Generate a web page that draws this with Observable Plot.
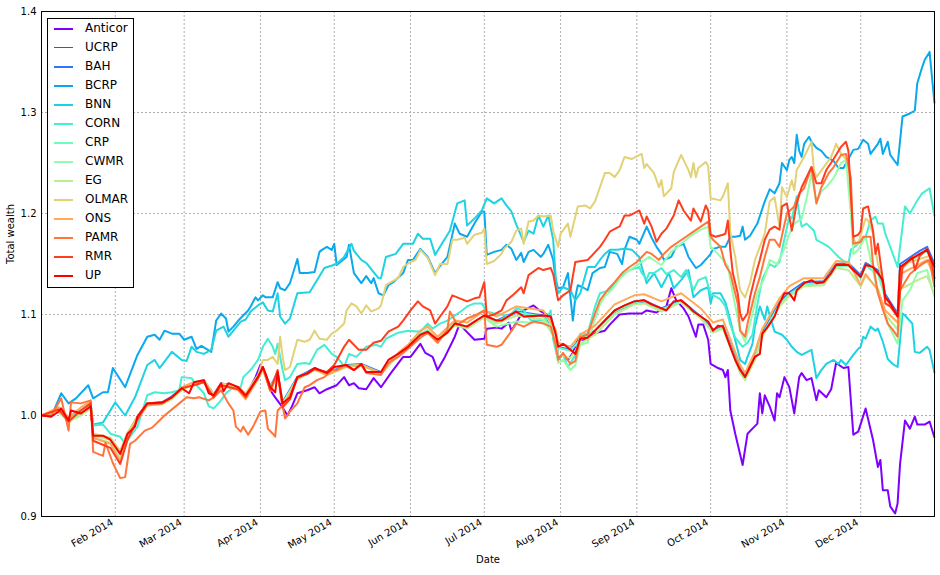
<!DOCTYPE html>
<html><head><meta charset="utf-8">
<script src="https://cdn.jsdelivr.net/npm/d3@7"></script>
<script src="https://cdn.jsdelivr.net/npm/@observablehq/plot@0.6"></script>
<style>
body{margin:0;background:#fff;}
#wrap{position:relative;width:940px;height:575px;font-family:"DejaVu Sans",sans-serif;}
#legend{position:absolute;left:47px;top:18px;width:87px;height:270px;border:1px solid #000;background:#fff;box-sizing:border-box;}
.row{position:absolute;left:0;width:85px;height:19px;font-size:12px;line-height:19px;color:#000;}
.sw{position:absolute;left:6px;width:19px;}
.lb{position:absolute;left:37px;top:0;white-space:nowrap;}
</style></head><body><div id="wrap"></div>
<script>
// ---- series names, colours, axis ticks ----
const names = ["Anticor","UCRP","BAH","BCRP","BNN","CORN","CRP","CWMR","EG","OLMAR","ONS","PAMR","RMR","UP"];
const colors = ["#8000ff","#583dfd","#3176f8","#0aa9ee","#1dd2e2","#45eed2","#6cfdbf","#93fda9","#baee91","#e2d277","#ffa95a","#ff763d","#ff3d1f","#ff0000"];
const monthTicks = ["2014-02-01","2014-03-01","2014-04-01","2014-05-01","2014-06-01","2014-07-01","2014-08-01","2014-09-01","2014-10-01","2014-11-01","2014-12-01"];
const yTicks = [0.9, 1.0, 1.1, 1.2, 1.3, 1.4];

// ---- data: [day of year 2014, total wealth] ----
const anticor = [[2,1.000],[9,1.004],[13,0.996],[18,1.002],[22,1.008],[23,0.981],[30,0.977],[34,0.964],[37,0.982],[41,0.998],[45,1.011],[51,1.012],[55,1.017],[59,1.026],[64,1.032],[68,1.034],[72,1.020],[75,1.031],[78,1.031],[82,1.027],[85,1.019],[89,1.038],[91,1.050],[93,1.040],[95,1.025],[97,1.018],[100,1.008],[102,1.000],[104,1.010],[106,1.022],[110,1.025],[113,1.028],[115,1.022],[118,1.026],[122,1.030],[125,1.038],[127,1.030],[129,1.032],[131,1.027],[134,1.026],[137,1.037],[140,1.028],[144,1.042],[149,1.058],[152,1.058],[156,1.071],[158,1.062],[161,1.058],[163,1.045],[166,1.058],[170,1.078],[172,1.091],[174,1.085],[178,1.075],[182,1.076],[183,1.086],[187,1.087],[189,1.086],[192,1.092],[193,1.084],[198,1.104],[202,1.109],[205,1.103],[209,1.098],[211,1.080],[212,1.058],[214,1.060],[216,1.055],[218,1.062],[220,1.075],[224,1.075],[226,1.081],[231,1.084],[233,1.090],[237,1.100],[241,1.101],[246,1.101],[248,1.104],[252,1.102],[256,1.108],[258,1.126],[260,1.114],[263,1.106],[265,1.098],[268,1.078],[269,1.090],[271,1.090],[273,1.075],[274,1.051],[277,1.047],[279,1.045],[280,1.038],[281,1.045],[282,1.005],[284,0.982],[287,0.951],[289,0.982],[291,0.987],[293,0.992],[294,1.022],[295,1.002],[296,1.020],[298,1.009],[300,0.995],[301,1.022],[302,1.018],[304,1.038],[306,1.028],[308,1.002],[310,1.038],[311,1.042],[313,1.035],[315,1.037],[317,1.015],[318,1.025],[321,1.018],[323,1.026],[325,1.052],[328,1.047],[330,1.048],[332,0.981],[334,0.984],[337,1.007],[340,0.976],[342,0.949],[343,0.956],[344,0.926],[346,0.926],[347,0.910],[349,0.903],[350,0.913],[351,0.952],[353,0.995],[355,0.987],[357,0.999],[358,0.991],[361,0.991],[363,0.994],[365,0.978]];

const bcrp = [[2,1.000],[6,0.999],[10,1.022],[13,1.012],[16,1.017],[21,1.030],[23,1.017],[27,1.023],[29,1.023],[31,1.047],[36,1.028],[41,1.060],[45,1.078],[48,1.080],[50,1.075],[52,1.084],[55,1.081],[58,1.081],[60,1.075],[63,1.078],[65,1.066],[67,1.069],[69,1.066],[71,1.063],[73,1.094],[75,1.101],[77,1.096],[78,1.083],[80,1.088],[82,1.094],[84,1.099],[86,1.104],[87,1.108],[89,1.117],[90,1.114],[92,1.119],[93,1.117],[96,1.117],[98,1.132],[99,1.126],[101,1.124],[103,1.131],[106,1.155],[107,1.141],[110,1.141],[113,1.142],[115,1.162],[116,1.164],[118,1.167],[120,1.164],[121,1.170],[122,1.149],[124,1.153],[126,1.157],[127,1.169],[129,1.141],[132,1.131],[134,1.138],[136,1.131],[137,1.136],[139,1.121],[141,1.119],[143,1.129],[145,1.132],[149,1.141],[151,1.154],[153,1.154],[156,1.165],[159,1.157],[162,1.141],[164,1.148],[167,1.157],[170,1.190],[172,1.180],[175,1.177],[178,1.190],[181,1.202],[182,1.202],[183,1.159],[186,1.162],[189,1.164],[191,1.169],[193,1.165],[195,1.154],[197,1.161],[198,1.152],[200,1.162],[202,1.164],[205,1.157],[206,1.160],[208,1.169],[210,1.154],[211,1.134],[212,1.126],[214,1.127],[216,1.141],[218,1.094],[219,1.117],[220,1.129],[222,1.127],[224,1.124],[226,1.141],[229,1.146],[231,1.147],[233,1.162],[236,1.160],[238,1.150],[239,1.164],[241,1.177],[244,1.174],[245,1.170],[248,1.187],[250,1.176],[252,1.167],[254,1.160],[255,1.154],[258,1.157],[260,1.167],[263,1.170],[265,1.157],[268,1.146],[270,1.149],[273,1.157],[274,1.160],[275,1.165],[278,1.167],[280,1.167],[282,1.177],[284,1.177],[286,1.178],[287,1.187],[288,1.174],[290,1.178],[293,1.190],[296,1.212],[298,1.224],[300,1.220],[302,1.230],[303,1.250],[305,1.243],[306,1.253],[307,1.256],[308,1.250],[309,1.278],[310,1.262],[311,1.256],[312,1.269],[314,1.276],[315,1.271],[317,1.265],[319,1.262],[321,1.256],[324,1.252],[326,1.245],[328,1.245],[330,1.254],[332,1.263],[334,1.264],[336,1.273],[338,1.269],[339,1.259],[342,1.269],[343,1.274],[344,1.259],[346,1.271],[347,1.258],[350,1.248],[352,1.296],[355,1.299],[357,1.302],[358,1.329],[360,1.345],[361,1.352],[363,1.360],[365,1.309]];

const bnn = [[2,1.000],[6,0.999],[9,1.008],[13,0.998],[18,1.005],[22,1.012],[23,0.991],[27,0.993],[32,1.013],[36,1.000],[40,1.018],[45,1.050],[48,1.055],[50,1.047],[55,1.063],[59,1.055],[61,1.054],[63,1.068],[65,1.063],[68,1.061],[71,1.065],[73,1.084],[76,1.088],[78,1.078],[83,1.093],[85,1.095],[87,1.103],[90,1.109],[92,1.112],[94,1.104],[96,1.103],[98,1.121],[99,1.098],[101,1.091],[103,1.096],[106,1.121],[111,1.122],[114,1.134],[117,1.146],[122,1.150],[125,1.157],[128,1.170],[129,1.163],[132,1.154],[134,1.151],[137,1.142],[139,1.136],[140,1.136],[142,1.157],[146,1.160],[149,1.170],[153,1.170],[155,1.180],[157,1.175],[160,1.175],[162,1.159],[164,1.167],[168,1.183],[171,1.210],[174,1.213],[175,1.188],[178,1.195],[181,1.203],[183,1.215],[186,1.210],[189,1.215],[191,1.208],[193,1.202],[195,1.189],[198,1.172],[200,1.183],[202,1.180],[204,1.198],[206,1.187],[208,1.198],[210,1.174],[211,1.137],[212,1.121],[214,1.127],[217,1.124],[219,1.114],[221,1.121],[224,1.147],[227,1.147],[229,1.154],[231,1.160],[233,1.164],[236,1.164],[239,1.165],[242,1.164],[245,1.157],[246,1.147],[248,1.131],[251,1.141],[254,1.127],[257,1.141],[259,1.126],[262,1.134],[265,1.144],[267,1.117],[270,1.124],[273,1.127],[274,1.111],[275,1.121],[278,1.121],[280,1.112],[282,1.094],[283,1.084],[285,1.065],[286,1.055],[288,1.051],[289,1.058],[291,1.071],[292,1.088],[294,1.108],[296,1.095],[297,1.108],[299,1.091],[300,1.083],[303,1.080],[305,1.075],[307,1.068],[309,1.063],[311,1.060],[315,1.065],[316,1.051],[317,1.037],[319,1.045],[321,1.051],[324,1.055],[326,1.051],[327,1.055],[329,1.050],[332,1.060],[334,1.066],[335,1.068],[336,1.078],[337,1.076],[339,1.088],[341,1.084],[342,1.086],[344,1.073],[346,1.056],[348,1.051],[350,1.048],[352,1.101],[353,1.099],[356,1.091],[357,1.063],[359,1.062],[362,1.068],[363,1.065],[365,1.042]];

const corn = [[2,1.000],[9,1.006],[13,0.996],[18,1.004],[22,1.010],[23,0.990],[27,0.991],[30,0.982],[34,0.979],[36,0.972],[38,0.979],[41,0.989],[45,1.020],[48,1.023],[52,1.022],[55,1.023],[58,1.025],[59,1.038],[63,1.037],[65,1.030],[68,1.022],[70,1.009],[72,1.007],[75,1.015],[77,1.022],[80,1.028],[83,1.028],[84,1.038],[87,1.045],[90,1.055],[92,1.068],[94,1.076],[96,1.068],[97,1.061],[98,1.071],[100,1.045],[101,1.035],[103,1.038],[106,1.051],[109,1.052],[111,1.051],[114,1.065],[117,1.070],[120,1.061],[122,1.058],[124,1.052],[125,1.048],[127,1.061],[130,1.058],[134,1.068],[138,1.070],[140,1.068],[142,1.076],[147,1.082],[151,1.084],[156,1.083],[159,1.091],[161,1.086],[164,1.091],[167,1.094],[170,1.099],[173,1.104],[175,1.108],[178,1.111],[181,1.111],[183,1.103],[186,1.101],[189,1.100],[192,1.098],[195,1.106],[198,1.104],[201,1.094],[204,1.094],[207,1.094],[209,1.104],[210,1.075],[212,1.055],[214,1.060],[216,1.048],[219,1.060],[221,1.081],[224,1.081],[227,1.108],[229,1.121],[233,1.124],[237,1.137],[241,1.144],[245,1.147],[246,1.141],[248,1.135],[249,1.141],[251,1.141],[254,1.146],[256,1.140],[259,1.144],[262,1.137],[264,1.144],[267,1.124],[269,1.134],[272,1.137],[274,1.120],[276,1.118],[278,1.115],[280,1.108],[282,1.090],[284,1.077],[287,1.068],[289,1.072],[291,1.080],[293,1.110],[295,1.135],[298,1.150],[300,1.147],[302,1.152],[304,1.175],[306,1.197],[307,1.195],[309,1.217],[310,1.200],[311,1.187],[313,1.190],[316,1.183],[317,1.174],[320,1.170],[322,1.167],[324,1.162],[326,1.157],[328,1.153],[330,1.150],[331,1.164],[334,1.170],[337,1.177],[339,1.193],[341,1.197],[342,1.190],[344,1.190],[345,1.180],[347,1.167],[350,1.147],[352,1.187],[353,1.207],[355,1.200],[358,1.213],[360,1.220],[363,1.225],[365,1.197]];

const cwmr = [[2,1.000],[9,1.005],[13,0.993],[18,1.003],[22,1.010],[23,0.978],[30,0.973],[34,0.958],[37,0.979],[41,0.997],[45,1.011],[51,1.012],[55,1.017],[59,1.026],[64,1.031],[68,1.034],[72,1.018],[75,1.031],[82,1.026],[85,1.018],[90,1.037],[92,1.047],[95,1.026],[98,1.042],[100,1.010],[106,1.037],[113,1.046],[118,1.041],[126,1.049],[132,1.050],[140,1.041],[147,1.060],[151,1.068],[156,1.081],[159,1.085],[163,1.076],[170,1.092],[175,1.088],[182,1.097],[187,1.088],[195,1.093],[200,1.092],[206,1.092],[209,1.090],[211,1.070],[212,1.052],[214,1.055],[217,1.045],[219,1.050],[221,1.070],[224,1.072],[227,1.095],[229,1.110],[231,1.118],[234,1.125],[237,1.135],[240,1.142],[243,1.147],[246,1.152],[249,1.157],[252,1.152],[254,1.149],[258,1.162],[263,1.172],[266,1.178],[270,1.184],[273,1.187],[274,1.167],[277,1.160],[279,1.154],[281,1.148],[283,1.121],[286,1.084],[288,1.073],[290,1.091],[293,1.121],[296,1.137],[298,1.154],[301,1.150],[304,1.165],[306,1.180],[308,1.190],[311,1.195],[313,1.215],[315,1.240],[317,1.210],[319,1.222],[321,1.226],[324,1.235],[327,1.250],[329,1.253],[331,1.200],[332,1.160],[334,1.164],[337,1.177],[340,1.144],[342,1.121],[344,1.110],[346,1.091],[350,1.071],[352,1.114],[355,1.124],[358,1.141],[362,1.144],[365,1.117]];

const olmar = [[2,1.000],[9,1.004],[13,0.996],[18,1.003],[22,1.010],[23,0.982],[30,0.978],[34,0.965],[37,0.983],[41,0.999],[45,1.012],[51,1.013],[55,1.018],[59,1.027],[64,1.033],[68,1.035],[72,1.021],[75,1.032],[82,1.028],[85,1.022],[90,1.040],[92,1.055],[94,1.055],[96,1.058],[98,1.051],[99,1.078],[100,1.058],[101,1.045],[103,1.048],[106,1.075],[109,1.073],[111,1.075],[113,1.084],[115,1.076],[118,1.075],[120,1.081],[122,1.084],[125,1.091],[126,1.104],[128,1.111],[130,1.108],[132,1.101],[134,1.109],[136,1.103],[139,1.106],[140,1.109],[142,1.129],[144,1.132],[147,1.136],[149,1.147],[152,1.152],[154,1.154],[156,1.164],[159,1.156],[162,1.139],[164,1.150],[167,1.150],[169,1.174],[171,1.174],[174,1.176],[175,1.170],[178,1.179],[181,1.181],[182,1.185],[183,1.150],[186,1.153],[189,1.160],[190,1.165],[193,1.172],[195,1.183],[197,1.185],[198,1.170],[200,1.192],[202,1.193],[204,1.198],[206,1.197],[209,1.198],[210,1.183],[212,1.167],[213,1.180],[216,1.190],[217,1.177],[220,1.207],[223,1.208],[225,1.205],[227,1.212],[229,1.226],[231,1.240],[233,1.240],[235,1.236],[237,1.243],[239,1.256],[242,1.254],[246,1.259],[247,1.245],[248,1.249],[251,1.240],[253,1.226],[254,1.233],[255,1.217],[258,1.225],[259,1.241],[262,1.258],[265,1.243],[266,1.236],[267,1.250],[268,1.236],[269,1.245],[272,1.251],[273,1.247],[274,1.215],[278,1.213],[279,1.217],[281,1.230],[282,1.181],[284,1.157],[285,1.140],[286,1.124],[288,1.117],[289,1.124],[290,1.131],[292,1.154],[294,1.167],[296,1.180],[298,1.212],[300,1.216],[302,1.187],[303,1.226],[305,1.216],[307,1.233],[308,1.223],[309,1.243],[312,1.256],[315,1.271],[316,1.243],[317,1.236],[320,1.246],[323,1.256],[325,1.269],[327,1.259],[329,1.254],[330,1.250],[332,1.177],[333,1.170],[334,1.170],[336,1.187],[337,1.195],[338,1.193],[340,1.180],[341,1.164],[342,1.150],[344,1.134],[345,1.117],[347,1.108],[350,1.098],[351,1.144],[355,1.152],[359,1.155],[363,1.158],[365,1.135]];

const pamr = [[2,1.000],[6,1.000],[10,1.017],[13,0.985],[14,1.013],[18,1.012],[22,1.015],[23,0.964],[27,0.960],[28,0.973],[31,0.953],[34,0.938],[36,0.939],[38,0.972],[40,0.975],[44,0.985],[47,0.988],[52,1.000],[58,1.012],[61,1.018],[64,1.017],[66,1.018],[70,1.015],[72,1.018],[75,1.025],[78,1.012],[80,1.005],[81,0.989],[83,0.984],[84,0.989],[86,0.981],[88,0.989],[91,1.004],[93,1.005],[94,0.987],[96,0.982],[97,0.979],[98,1.005],[100,1.010],[101,0.997],[103,1.004],[106,1.012],[109,1.028],[111,1.030],[114,1.035],[117,1.038],[120,1.045],[122,1.045],[125,1.050],[129,1.045],[132,1.050],[134,1.042],[140,1.040],[143,1.052],[147,1.058],[151,1.066],[156,1.077],[159,1.082],[163,1.072],[167,1.085],[168,1.103],[171,1.090],[175,1.096],[179,1.100],[182,1.104],[183,1.070],[187,1.068],[189,1.070],[192,1.080],[195,1.091],[198,1.088],[202,1.093],[206,1.091],[209,1.088],[211,1.070],[212,1.055],[214,1.062],[217,1.051],[219,1.054],[221,1.078],[224,1.080],[227,1.101],[229,1.114],[232,1.124],[235,1.132],[238,1.141],[241,1.147],[244,1.152],[246,1.157],[248,1.162],[250,1.160],[253,1.154],[255,1.160],[258,1.167],[261,1.172],[264,1.177],[267,1.182],[270,1.187],[273,1.192],[274,1.177],[275,1.174],[278,1.167],[280,1.149],[282,1.141],[285,1.111],[286,1.084],[288,1.078],[289,1.091],[292,1.121],[294,1.137],[296,1.157],[298,1.174],[300,1.174],[302,1.167],[305,1.200],[308,1.207],[310,1.220],[312,1.225],[315,1.246],[317,1.210],[319,1.226],[322,1.240],[324,1.246],[327,1.258],[329,1.259],[331,1.235],[332,1.170],[335,1.172],[336,1.177],[339,1.177],[340,1.150],[342,1.121],[344,1.105],[346,1.091],[348,1.085],[350,1.078],[351,1.124],[355,1.140],[357,1.144],[360,1.150],[363,1.154],[365,1.127]];

const rmr = [[2,1.000],[9,1.006],[13,0.994],[18,1.005],[22,1.012],[23,0.975],[30,0.968],[34,0.952],[37,0.976],[41,0.996],[45,1.012],[51,1.012],[55,1.018],[59,1.027],[64,1.030],[68,1.033],[72,1.018],[75,1.030],[82,1.026],[85,1.018],[90,1.038],[92,1.048],[95,1.025],[98,1.045],[100,1.008],[103,1.016],[106,1.038],[110,1.041],[113,1.046],[118,1.043],[121,1.050],[125,1.068],[127,1.075],[131,1.065],[134,1.065],[137,1.072],[140,1.074],[143,1.083],[147,1.088],[149,1.094],[152,1.104],[155,1.113],[157,1.108],[160,1.104],[162,1.091],[164,1.098],[167,1.108],[169,1.119],[172,1.116],[175,1.113],[178,1.116],[180,1.117],[182,1.132],[183,1.098],[186,1.100],[189,1.104],[191,1.114],[194,1.120],[197,1.127],[198,1.121],[200,1.139],[204,1.146],[206,1.144],[209,1.146],[210,1.140],[212,1.114],[214,1.119],[217,1.124],[219,1.152],[224,1.154],[226,1.159],[229,1.167],[231,1.174],[233,1.182],[236,1.186],[237,1.187],[239,1.198],[241,1.198],[245,1.203],[247,1.190],[248,1.197],[250,1.187],[252,1.172],[254,1.180],[256,1.185],[259,1.198],[261,1.213],[263,1.203],[266,1.193],[267,1.205],[270,1.192],[272,1.208],[273,1.203],[274,1.179],[276,1.177],[279,1.179],[280,1.180],[281,1.193],[282,1.164],[283,1.141],[285,1.121],[286,1.101],[287,1.094],[289,1.101],[290,1.117],[292,1.137],[294,1.154],[296,1.174],[298,1.184],[300,1.187],[302,1.184],[303,1.207],[305,1.210],[307,1.183],[309,1.210],[311,1.226],[313,1.236],[315,1.246],[317,1.230],[319,1.230],[321,1.243],[324,1.254],[327,1.266],[329,1.271],[330,1.262],[332,1.177],[334,1.179],[335,1.183],[336,1.205],[338,1.207],[340,1.183],[341,1.160],[342,1.170],[344,1.134],[345,1.111],[347,1.108],[350,1.098],[352,1.147],[356,1.157],[357,1.144],[359,1.158],[362,1.165],[364,1.150],[365,1.135]];

const up = [[2,1.000],[6,0.999],[9,1.004],[10,1.007],[13,0.995],[14,1.005],[18,1.002],[22,1.009],[23,0.980],[27,0.980],[30,0.976],[34,0.962],[37,0.982],[40,0.989],[41,0.999],[45,1.012],[51,1.013],[55,1.018],[59,1.027],[62,1.022],[64,1.033],[68,1.035],[70,1.022],[72,1.020],[75,1.032],[76,1.024],[78,1.032],[82,1.028],[85,1.020],[87,1.027],[90,1.038],[92,1.048],[93,1.042],[95,1.028],[97,1.023],[98,1.043],[100,1.012],[103,1.018],[106,1.038],[110,1.042],[113,1.047],[118,1.042],[121,1.048],[126,1.050],[129,1.045],[132,1.051],[134,1.043],[140,1.043],[143,1.055],[147,1.061],[151,1.068],[156,1.080],[159,1.083],[163,1.075],[167,1.082],[170,1.091],[175,1.088],[178,1.093],[182,1.099],[187,1.094],[189,1.094],[195,1.103],[198,1.098],[206,1.099],[209,1.098],[211,1.081],[212,1.068],[214,1.071],[217,1.065],[219,1.061],[221,1.076],[224,1.077],[227,1.084],[231,1.094],[235,1.104],[239,1.109],[243,1.113],[247,1.114],[250,1.110],[254,1.106],[256,1.104],[259,1.113],[262,1.114],[265,1.108],[267,1.103],[270,1.098],[273,1.093],[275,1.084],[277,1.089],[279,1.088],[282,1.068],[284,1.055],[286,1.045],[288,1.038],[290,1.048],[292,1.058],[294,1.061],[295,1.081],[297,1.087],[300,1.098],[302,1.111],[304,1.121],[306,1.121],[308,1.114],[309,1.124],[312,1.131],[315,1.134],[317,1.131],[320,1.132],[323,1.141],[325,1.149],[330,1.149],[332,1.144],[335,1.137],[337,1.149],[340,1.147],[342,1.141],[344,1.134],[345,1.117],[347,1.111],[350,1.098],[351,1.147],[355,1.154],[359,1.160],[362,1.164],[365,1.147]];

// series that run together with UP, read on a shared set of days
const bundleDays = [2,9,13,18,22,23,30,34,37,41,45,51,55,59,64,68,72,75,82,85,90,92,95,98,100,106,113,118,126,132,140,147,151,156,159,163,170,175,182,187,195,206,211,212,217,221,227,235,243,247,254,262,270,275,279,286,288,292,295,302,306,312,320,325,330,335,337,342,345,350,351,359,362,365];
const ucrpVals = [1.000,1.003,0.995,1.001,1.008,0.981,0.977,0.964,0.981,0.998,1.010,1.012,1.017,1.025,1.031,1.033,1.020,1.030,1.027,1.020,1.037,1.046,1.027,1.041,1.012,1.036,1.045,1.041,1.048,1.049,1.042,1.059,1.066,1.078,1.081,1.074,1.089,1.087,1.097,1.093,1.101,1.098,1.080,1.067,1.064,1.075,1.083,1.102,1.111,1.112,1.105,1.112,1.097,1.083,1.087,1.044,1.038,1.057,1.080,1.110,1.120,1.130,1.131,1.148,1.149,1.137,1.148,1.141,1.118,1.099,1.146,1.160,1.163,1.147];
const bahVals = [1.000,1.004,0.996,1.002,1.009,0.981,0.977,0.963,0.982,0.999,1.012,1.013,1.019,1.027,1.033,1.035,1.021,1.032,1.028,1.021,1.038,1.047,1.029,1.042,1.013,1.038,1.047,1.042,1.050,1.051,1.043,1.061,1.068,1.080,1.083,1.075,1.091,1.088,1.099,1.094,1.103,1.099,1.081,1.068,1.065,1.076,1.084,1.104,1.113,1.114,1.106,1.114,1.098,1.085,1.089,1.046,1.040,1.059,1.082,1.112,1.122,1.132,1.133,1.150,1.151,1.139,1.151,1.144,1.120,1.101,1.150,1.163,1.167,1.150];
const crpVals = [1.000,1.003,0.995,1.001,1.008,0.980,0.977,0.963,0.981,0.998,1.011,1.012,1.017,1.026,1.032,1.034,1.020,1.031,1.027,1.020,1.037,1.047,1.028,1.042,1.012,1.037,1.046,1.041,1.049,1.050,1.042,1.060,1.067,1.079,1.082,1.074,1.090,1.087,1.098,1.093,1.102,1.098,1.080,1.067,1.064,1.075,1.083,1.103,1.112,1.113,1.105,1.113,1.097,1.083,1.087,1.044,1.037,1.057,1.080,1.110,1.120,1.130,1.131,1.148,1.148,1.136,1.148,1.140,1.117,1.098,1.146,1.159,1.163,1.146];
const egVals = [1.000,1.003,0.994,1.000,1.007,0.980,0.976,0.962,0.980,0.997,1.010,1.011,1.016,1.025,1.031,1.033,1.019,1.030,1.026,1.019,1.036,1.046,1.026,1.041,1.011,1.036,1.045,1.040,1.048,1.050,1.041,1.059,1.067,1.079,1.082,1.073,1.089,1.086,1.097,1.091,1.099,1.095,1.075,1.060,1.057,1.071,1.080,1.100,1.110,1.111,1.103,1.112,1.096,1.082,1.086,1.042,1.035,1.055,1.078,1.108,1.118,1.128,1.129,1.146,1.144,1.128,1.138,1.126,1.100,1.085,1.125,1.135,1.138,1.120];
const onsVals = [1.000,1.008,0.998,1.008,1.014,0.978,0.972,0.955,0.978,0.996,1.010,1.012,1.018,1.028,1.033,1.034,1.018,1.030,1.025,1.016,1.036,1.046,1.024,1.040,1.008,1.036,1.046,1.040,1.049,1.050,1.042,1.062,1.070,1.084,1.088,1.078,1.094,1.092,1.104,1.098,1.108,1.104,1.085,1.072,1.068,1.080,1.089,1.110,1.119,1.120,1.113,1.121,1.106,1.092,1.095,1.050,1.042,1.063,1.086,1.116,1.128,1.136,1.136,1.153,1.152,1.129,1.140,1.124,1.104,1.092,1.140,1.150,1.154,1.137];

// ---- build the table ----
const zipDays = vals => bundleDays.map((d, i) => [d, vals[i]]);
const seriesData = {
  Anticor: anticor, UCRP: zipDays(ucrpVals), BAH: zipDays(bahVals), BCRP: bcrp, BNN: bnn,
  CORN: corn, CRP: zipDays(crpVals), CWMR: cwmr, EG: zipDays(egVals), OLMAR: olmar,
  ONS: zipDays(onsVals), PAMR: pamr, RMR: rmr, UP: up
};
const toDate = doy => new Date(Date.UTC(2014, 0, doy));
const rows = names.map(n => seriesData[n].filter(p => p[1] != null).map(([d, v]) => ({name: n, date: toDate(d), value: v})));
const xTickDates = monthTicks.map(s => new Date(s + "T00:00:00Z"));

const lineMarks = names.map((n, i) => Plot.line(rows[i], {
  x: "date", y: "value", stroke: colors[i],
  strokeWidth: n === "UCRP" ? 1 : 2, strokeLinejoin: "round", strokeLinecap: "butt"
}));

const chart = Plot.plot({
  width: 940, height: 575,
  marginLeft: 41, marginRight: 6, marginTop: 11, marginBottom: 59,
  style: {fontFamily: "DejaVu Sans, sans-serif", fontSize: "10px", background: "white", color: "black", overflow: "visible"},
  x: {type: "utc", domain: [toDate(2), toDate(365)]},
  y: {domain: [0.9, 1.4]},
  marks: [
    Plot.gridY(yTicks, {stroke: "#b0b0b0", strokeOpacity: 1, strokeDasharray: "2,2"}),
    Plot.gridX(xTickDates, {stroke: "#b0b0b0", strokeOpacity: 1, strokeDasharray: "2,2"}),
    ...lineMarks,
    Plot.frame({stroke: "black", strokeWidth: 1}),
    Plot.axisY(yTicks, {tickFormat: d => d.toFixed(1), tickSize: 0, tickPadding: 5, label: null}),
    Plot.axisX(xTickDates, {tickFormat: d3.utcFormat("%b %Y"), tickRotate: -30, tickSize: 0, tickPadding: 5, dx: -3, label: null}),
    Plot.text(["Total wealth"], {text: d => d, frameAnchor: "left", dx: -31, rotate: -90}),
    Plot.text(["Date"], {text: d => d, frameAnchor: "bottom", dy: 46})
  ]
});
const wrap = document.getElementById("wrap");
wrap.appendChild(chart);

// ---- legend (inside the axes, top-left) ----
const legend = document.createElement("div");
legend.id = "legend";
names.forEach((n, i) => {
  const r = document.createElement("div");
  r.className = "row";
  r.style.top = (0 + i * 19) + "px";
  const sw = document.createElement("div");
  sw.className = "sw";
  const h = n === "UCRP" ? 1 : 2;
  sw.style.height = h + "px";
  sw.style.top = (9.5 - h / 2) + "px";
  sw.style.background = colors[i];
  const lb = document.createElement("div");
  lb.className = "lb";
  lb.textContent = n;
  r.appendChild(sw); r.appendChild(lb);
  legend.appendChild(r);
});
wrap.appendChild(legend);
</script></body></html>
